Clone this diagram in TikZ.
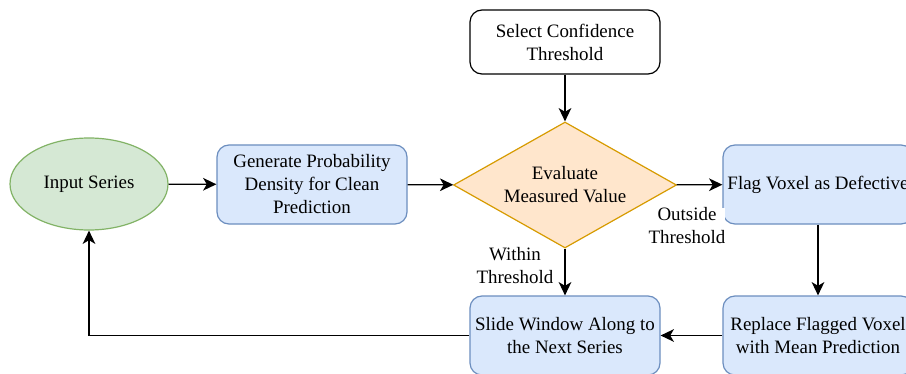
\documentclass[tikz,border=0pt]{standalone}
\usepackage{fontspec}
\setmainfont{Liberation Serif}
\usetikzlibrary{shapes.geometric,arrows.meta}
\definecolor{gfill}{HTML}{D5E8D4}
\definecolor{gline}{HTML}{82B366}
\definecolor{bfill}{HTML}{DAE8FC}
\definecolor{bline}{HTML}{6C8EBF}
\definecolor{ofill}{HTML}{FFE6CC}
\definecolor{oline}{HTML}{D79B00}
\tikzset{
  base/.style={font=\fontsize{14.2pt}{17.25pt}\selectfont, align=center, line width=0.9pt, inner sep=0pt},
  bluebox/.style={base, draw=bline, fill=bfill, rounded corners=9pt, minimum width=142.5pt, minimum height=59.25pt},
  whitebox/.style={base, draw=black, fill=white, rounded corners=9pt, minimum width=142.5pt, minimum height=48pt},
  startnode/.style={base, ellipse, draw=gline, fill=gfill, minimum width=118.5pt, minimum height=69pt},
  decision/.style={base, diamond, aspect=1.77, draw=oline, fill=ofill, minimum width=167.25pt, minimum height=94.5pt},
  conn/.style={line width=1pt, -{Stealth[length=10pt,width=9.5pt,inset=2.8pt]}},
  lbl/.style={font=\fontsize{14.2pt}{17.25pt}\selectfont, align=center, inner sep=0pt, fill=white}
}
\begin{document}
\begin{tikzpicture}[x=0.75pt,y=-0.75pt]
\clip (0,0) rectangle (906,374);
\fill[white] (0,0) rectangle (906,374);
\node[startnode] (input) at (89,184) {Input Series};
\node[bluebox] (gen) at (312,184.5) {Generate Probability\\Density for Clean\\Prediction};
\node[decision] (eval) at (565,185) {Evaluate\\Measured Value};
\node[whitebox] (sel) at (565,42) {Select Confidence\\Threshold};
\node[bluebox] (flag) at (818,184.5) {Flag Voxel as Defective};
\node[bluebox] (repl) at (818,335.5) {Replace Flagged Voxel\\with Mean Prediction};
\node[bluebox] (slide) at (565,335.5) {Slide Window Along to\\the Next Series};
\coordinate (corner) at (slide.west -| input.south);

\draw[conn] (input) -- (gen);
\draw[conn] (gen) -- (eval);
\draw[conn] (sel) -- (eval);
\draw[conn] (eval) -- (flag);
\draw[conn] (eval) -- (slide);
\draw[conn] (flag) -- (repl);
\draw[conn] (repl) -- (slide);
\draw[conn] (slide.west) -- (corner) -- (input.south);

\node[lbl] (outl) at (687,226) {Outside\\Threshold};
\node[lbl] (withl) at (515,266) {Within\\Threshold};
\end{tikzpicture}
\end{document}
